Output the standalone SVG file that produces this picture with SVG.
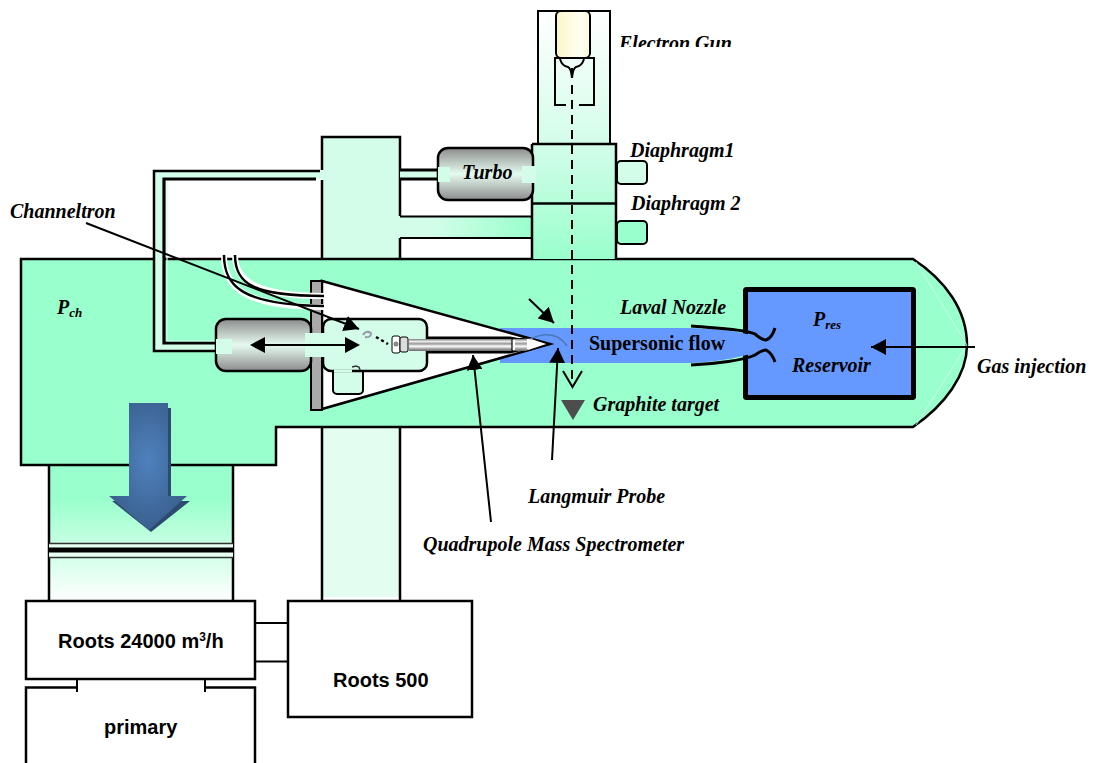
<svg xmlns="http://www.w3.org/2000/svg" width="1095" height="763" viewBox="0 0 1095 763">
<defs>
<linearGradient id="gGray" x1="0" y1="0" x2="0" y2="1"><stop offset="0" stop-color="#8c8c8c"/><stop offset="0.5" stop-color="#e6fbf0"/><stop offset="1" stop-color="#8c8c8c"/></linearGradient>
<linearGradient id="gGun" x1="0" y1="0" x2="0" y2="1"><stop offset="0" stop-color="#ffffff"/><stop offset="1" stop-color="#d3fde9"/></linearGradient>
<linearGradient id="gDiaph" x1="0" y1="0" x2="0" y2="1"><stop offset="0" stop-color="#d3fde9"/><stop offset="1" stop-color="#99ffcc"/></linearGradient>
<linearGradient id="gYellow" x1="0" y1="0" x2="1" y2="0"><stop offset="0" stop-color="#fbf6c8"/><stop offset="0.7" stop-color="#fffff2"/><stop offset="1" stop-color="#fdf9dc"/></linearGradient>
<linearGradient id="gChan" x1="0" y1="0" x2="1" y2="0"><stop offset="0" stop-color="#d3fde9"/><stop offset="0.25" stop-color="#d3fde9"/><stop offset="1" stop-color="#99ffcc"/></linearGradient>
<linearGradient id="gPump" x1="0" y1="0" x2="0" y2="1"><stop offset="0" stop-color="#99ffcc"/><stop offset="0.25" stop-color="#99ffcc"/><stop offset="1" stop-color="#ffffff"/></linearGradient>
<linearGradient id="gTube" x1="0" y1="0" x2="0" y2="1"><stop offset="0" stop-color="#777"/><stop offset="0.2" stop-color="#eee"/><stop offset="0.4" stop-color="#999"/><stop offset="0.6" stop-color="#fff"/><stop offset="0.8" stop-color="#aaa"/><stop offset="1" stop-color="#666"/></linearGradient>
<radialGradient id="gBig" cx="0.5" cy="0.45" r="0.6"><stop offset="0" stop-color="#4f81bd"/><stop offset="1" stop-color="#385d8a"/></radialGradient>
<clipPath id="clipGun"><rect x="610" y="30" width="130" height="17"/></clipPath>
<marker id="head" markerWidth="16" markerHeight="16" refX="15" refY="8" orient="auto" markerUnits="userSpaceOnUse"><path d="M0 0L15 8L0 16Z" fill="#000"/></marker>
</defs>
<style>
.o{stroke:#000;stroke-width:2.5;fill:none}
.box{fill:#fff;stroke:#000;stroke-width:2.5}
.it{font-family:"Liberation Serif",serif;font-weight:bold;font-style:italic;font-size:20px;fill:#000}
.ss{font-family:"Liberation Sans",sans-serif;font-weight:bold;font-size:20px;fill:#000}
.ln{stroke:#000;stroke-width:2;fill:none}
.hose{fill:none;stroke:#fff;stroke-width:6}
.sub{font-size:13px}
</style>
<rect width="1095" height="763" fill="#fff"/>

<g id="pump-column">
<rect x="49" y="465" width="184" height="136" fill="url(#gPump)"/>
<path class="o" d="M49 465V601M233 465V601"/>
<rect x="49" y="543" width="184" height="15" fill="#e8fff4"/>
<path d="M49 543.500H233M49 557.500H233" stroke="#333" stroke-width="1.500"/>
<path d="M49 550H233" stroke="#000" stroke-width="5"/>
</g>

<g id="lower-column">
<rect x="322" y="427" width="78" height="170" fill="#e3fdf0"/>
<path class="o" d="M322 427V601M400 427V601"/>
</g>

<g id="upper-column">
<rect x="322" y="137" width="78" height="122" fill="#d3fde9"/>
<path class="o" d="M322 170V137H400V216M400 238V259M322 180V259"/>
<rect x="400" y="216" width="132" height="22" fill="url(#gChan)"/>
<path class="ln" d="M400 216.500H532M400 238H532"/>
</g>

<g id="chamber">
<path d="M21 259H913C945 280 967 310 967 345C967 375 945 405 913 427H276V465H21Z" fill="#99ffcc" stroke="#000" stroke-width="2.500"/>
<path d="M916 262L967 345L916 425" fill="none" stroke="#d8fff0" stroke-width="0.800"/>
</g>

<g id="pipe">
<path d="M322 171H154V351H216V343H164V179H322Z" fill="#d3fde9"/>
<path d="M320 171H154V351H218" fill="none" stroke="#000" stroke-width="2.500"/>
<path d="M316 179H164V343H218" fill="none" stroke="#000" stroke-width="3.200"/>
<path d="M167 182V341H216" fill="none" stroke="#d3fde9" stroke-width="1.200"/>
<rect x="400" y="170" width="38" height="9" fill="#d3fde9"/>
<path d="M400 170H438M400 179H438" stroke="#000" stroke-width="3"/>
</g>

<g id="gun-column">
<rect x="538" y="11" width="72" height="133" fill="url(#gGun)" stroke="#000" stroke-width="2"/>
</g>
<g id="diaphragm-1">
<rect x="617" y="161" width="30" height="23" rx="4" fill="#d3fde9" stroke="#000" stroke-width="2"/>
</g>
<g id="diaphragm-2">
<rect x="617" y="221" width="30" height="23" rx="4" fill="#99ffcc" stroke="#000" stroke-width="2"/>
</g>
<g id="diaphragm-body">
<rect x="532" y="144" width="84" height="115" fill="url(#gDiaph)"/>
<path class="o" d="M532 144H616V259M532 144V259M532 203.500H616"/>
</g>

<g id="electron-gun">
<rect x="556" y="11" width="34" height="47" rx="5" fill="url(#gYellow)" stroke="#000" stroke-width="2"/>
<path d="M566 105H555V58H594V105H579" fill="none" stroke="#000" stroke-width="2"/>
<path d="M560 59Q562 66 568 67Q571 68 572 78Q573 68 576 67Q582 66 584 59" fill="none" stroke="#000" stroke-width="2"/>
</g>

<g id="turbo">
<rect x="438" y="148" width="95" height="52" rx="10" fill="url(#gGray)" stroke="#000" stroke-width="2.500"/>
<rect x="438" y="167" width="12" height="15" fill="#d3fde9"/>
<rect x="522" y="166" width="14" height="17" fill="#d3fde9"/>
</g>

<g id="reservoir">
<rect x="745.500" y="289.500" width="168" height="108" rx="1" fill="#6699ff" stroke="#000" stroke-width="5"/>
<path d="M500 328H691C720 329 745 331 764 340V350C745 356 720 362 691 363H500Z" fill="#6699ff"/>
<path d="M691 326C715 328 745 329 755 334Q762 340 766 340Q772 338 775 328M691 365C715 364 745 360 755 355Q762 350 766 350Q772 353 775 362" fill="none" stroke="#000" stroke-width="3"/>
</g>

<g id="cone">
<path d="M322 281L550 344L322 409Z" fill="#fff" stroke="#000" stroke-width="2.500"/>
<rect x="311" y="281" width="11" height="129" fill="#aaa" stroke="#000" stroke-width="2"/>
</g>

<g id="left-tank">
<rect x="216" y="319" width="95" height="52" rx="10" fill="url(#gGray)" stroke="#000" stroke-width="2.500"/>
<rect x="216" y="339" width="16" height="15" fill="#d3fde9"/>
</g>

<g id="hoses">
<path class="hose" d="M224 255C224 285 240 307 324 307"/>
<path class="hose" d="M235 255C235 280 255 296 324 296"/>
<path d="M224 255C224 285 240 305 324 306M235 255C235 285 255 296 324 296" fill="none" stroke="#000" stroke-width="2.500"/>
</g>

<g id="detector">
<rect x="333" y="368" width="30" height="26" rx="4" fill="#d3fde9" stroke="#000" stroke-width="2"/>
<rect x="323" y="319" width="104" height="52" rx="8" fill="#d3fde9" stroke="#000" stroke-width="2.500"/>
<path d="M334 371H352" stroke="#d3fde9" stroke-width="3"/>
<rect x="305" y="333" width="40" height="24" fill="#d3fde9"/>
<path d="M352 367l4 -1l3 1l1 3" fill="none" stroke="#333" stroke-width="1.500"/>
</g>

<g id="probe">
<path d="M428 336.500H510L550 344L510 353.500H428Z" fill="#000"/>
<rect x="409" y="339" width="105" height="12" fill="url(#gTube)"/>
<path d="M512 339L530 338L548 344L530 350L512 351Z" fill="#fff" stroke="#000" stroke-width="1.200"/>
<path d="M515 339H527V351H515Z" fill="url(#gTube)"/>
<rect x="392" y="336" width="8" height="17" rx="2" fill="#fff" stroke="#000" stroke-width="1"/>
<rect x="400" y="337" width="8" height="15" rx="2" fill="#ddd" stroke="#000" stroke-width="1"/>
<circle cx="396" cy="344" r="2.500" fill="#888"/>
<path d="M363 335Q366 330 371 333Q371 338 365 337" fill="none" stroke="#99a" stroke-width="2"/>
<path d="M376 337L388 344" stroke="#000" stroke-width="2.500" stroke-dasharray="3 3"/>
<path d="M530 339Q555 328 567 346" fill="none" stroke="#4a78b8" stroke-width="1.500"/>
</g>

<g id="target">
<path d="M561 400H585L573 420Z" fill="#4d4d4d"/>
</g>

<g id="exhaust-arrow">
<path d="M134 408H171V501H190L151 532L112 501H134Z" fill="#2d4a70"/>
<path d="M129 403H168V496H187L149 530L109 496H129Z" fill="url(#gBig)"/>
</g>

<g id="roots-24000">
<rect class="box" x="26" y="601" width="229" height="78"/>
<text class="ss" x="58" y="648">Roots 24000 m<tspan dy="-7" font-size="12">3</tspan><tspan dy="7">/h</tspan></text>
</g>
<g id="roots-500">
<rect class="box" x="288" y="601" width="184" height="116"/>
<text class="ss" x="333" y="687">Roots 500</text>
</g>
<g id="primary">
<path d="M26 763V687.500H77M205 687.500H255V763" fill="none" stroke="#000" stroke-width="2.500"/>
<text class="ss" x="104" y="734">primary</text>
</g>

<g id="connectors">
<path class="ln" d="M255 623H288M255 661.500H288M77 679V692M205 679V692"/>
<path d="M572 85V386" stroke="#000" stroke-width="2" stroke-dasharray="9 6" fill="none"/>
<path d="M572 68V78" stroke="#000" stroke-width="2" fill="none"/>
<path d="M563 371L572.500 387L582 371" fill="none" stroke="#000" stroke-width="2"/>
<path class="ln" d="M86 223L359 329" marker-end="url(#head)"/>
<path d="M265 345H345" stroke="#000" stroke-width="2"/>
<path d="M250 345L265 337V353ZM360 345L345 337V353Z" fill="#000"/>
<path class="ln" d="M529 299L554 323" marker-end="url(#head)"/>
<path class="ln" d="M552 460L558 348" marker-end="url(#head)"/>
<path class="ln" d="M491 522L473 355" marker-end="url(#head)"/>
<path class="ln" d="M975 347H871" marker-end="url(#head)"/>
</g>

<g id="labels">
<text class="it" x="619" y="50" clip-path="url(#clipGun)">Electron Gun</text>
<text class="it" x="630" y="157">Diaphragm1</text>
<text class="it" x="631" y="210">Diaphragm 2</text>
<text class="it" x="462" y="179">Turbo</text>
<text class="it" x="10" y="218">Channeltron</text>
<text class="it" x="57" y="314">P<tspan dy="3" class="sub">ch</tspan></text>
<text class="it" x="620" y="314">Laval Nozzle</text>
<text x="589" y="350" style="font-family:'Liberation Serif',serif;font-weight:bold;font-size:20px">Supersonic flow</text>
<text class="it" x="593" y="411">Graphite target</text>
<text class="it" x="528" y="503">Langmuir Probe</text>
<text class="it" x="423" y="551">Quadrupole Mass Spectrometer</text>
<text class="it" x="813" y="326">P<tspan dy="3" class="sub">res</tspan></text>
<text class="it" x="792" y="372">Reservoir</text>
<text class="it" x="977" y="373">Gas injection</text>
</g>
</svg>
